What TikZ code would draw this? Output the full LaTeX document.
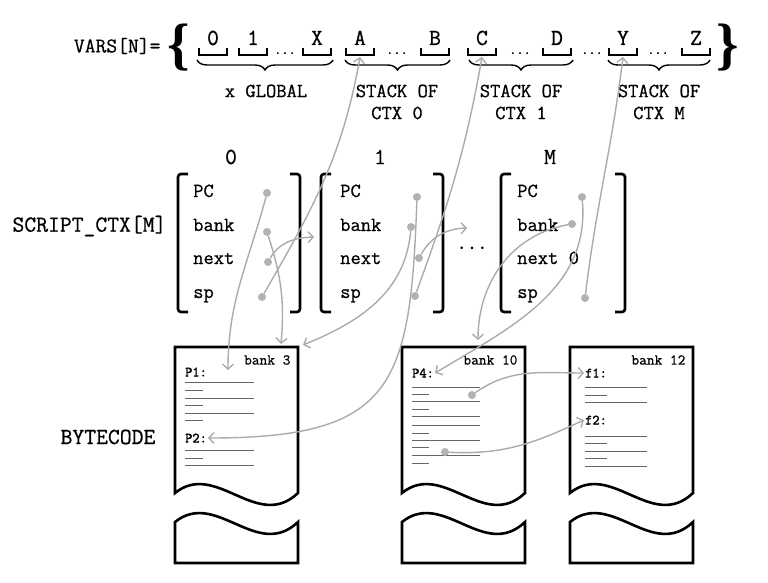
\documentclass[tikz,border=0pt]{standalone}
\usepackage{fontspec}
\setmonofont[FakeBold=0.7]{Latin Modern Mono}
\newfontfamily\boldmono[FakeBold=2]{Latin Modern Mono}
\renewcommand{\familydefault}{\ttdefault}
\newfontfamily\bracefont{Liberation Serif}
\usetikzlibrary{arrows.meta,decorations.pathreplacing}

\begin{document}
\begin{tikzpicture}[x=1pt,y=1pt]
  \useasboundingbox (0,0) rectangle (768,-583);

  \tikzstyle{every edge}=[draw,->,>={Straight Barb[length=5pt,width=11pt]},draw=black!33,line width=1.4pt]
  \tikzstyle{every node}=[font=\fontsize{20}{22}\selectfont]
  \tikzstyle{var}=[anchor=base,font=\fontsize{23}{25}\selectfont]
  \tikzstyle{etc}=[anchor=base,inner sep=0pt,font=\boldmono\fontsize{14}{15}\selectfont]
  \tikzstyle{slot}=[line width=2pt]
  \tikzstyle{ubrace}=[decorate,decoration={brace,mirror,amplitude=10pt},line width=1.4pt]
  \tikzstyle{big}=[font=\bracefont\bfseries\fontsize{57}{57}\selectfont]
  \tikzstyle{head}=[font=\fontsize{23}{25}\selectfont]
  \tikzstyle{brk}=[line width=2.6pt,rounded corners=3pt]
  \tikzstyle{row}=[anchor=base west,inner sep=0pt]
  \tikzstyle{dot}=[circle,fill=black!30,inner sep=0pt,minimum size=8pt]
  \tikzstyle{page}=[line width=2.6pt]
  \tikzstyle{ln}=[draw=black!60,line width=0.9pt]
  \tikzstyle{bk}=[anchor=east,font=\fontsize{15}{17}\selectfont]
  \tikzstyle{lbl}=[anchor=west,inner sep=1pt,font=\boldmono\fontsize{14}{16}\selectfont]

  % VARS
  \node[anchor=east,font=\fontsize{21}{23}\selectfont] (vars) at (164,-46) {VARS[N]=};
  \node[big] (lbr) at (179,-48) {\{};
  \node[big] (rbr) at (728,-48) {\}};
  \foreach \x/\nm in {213/0,253/1,317/X,360/A,435/B,482/C,557/D,623/Y,696/Z}{
    \node[var] (v\nm) at (\x,-45) {\nm};
    \draw[slot] (\x-14,-48) -- (\x-14,-55) -- (\x+14,-55) -- (\x+14,-48);
    \coordinate (s\nm) at (\x,-57);
  }
  \foreach \x in {285,397,520,592,658}
    \node[etc] at (\x,-54) {...};

  \draw[ubrace] (197,-60) -- (333,-60);
  \draw[ubrace] (345,-60) -- (450,-60);
  \draw[ubrace] (469,-60) -- (573,-60);
  \draw[ubrace] (608,-60) -- (710,-60);
  \node (glob) at (266,-91) {x GLOBAL};
  \node[align=center] (stk0) at (397,-102) {STACK OF\\CTX 0};
  \node[align=center] (stk1) at (521,-102) {STACK OF\\CTX 1};
  \node[align=center] (stkM) at (659,-102) {STACK OF\\CTX M};

  % SCRIPT_CTX
  \node[head,anchor=east] (sctx) at (170,-226) {SCRIPT\_CTX[M]};
  \foreach \n/\xa/\xb in {0/178/300,1/321/443,M/501/625}{
    \draw[brk] (\xa+10,-174) -- (\xa,-174) -- (\xa,-312) -- (\xa+10,-312);
    \draw[brk] (\xb-10,-174) -- (\xb,-174) -- (\xb,-312) -- (\xb-10,-312);
  }
  \node[head] (h0) at (231,-157) {0};
  \node[head] (h1) at (380,-157) {1};
  \node[head] (hM) at (550,-157) {M};
  \foreach \n/\x in {0/193,1/340}{
    \node[row] (pc\n) at (\x,-197) {PC};
    \node[row] (bank\n) at (\x,-231) {bank};
    \node[row] (next\n) at (\x,-264) {next};
    \node[row] (sp\n) at (\x,-298) {sp};
  }
  \node[row] (pcM) at (517,-197) {PC};
  \node[row] (bankM) at (517,-231) {bank};
  \node[row] (nextM) at (517,-264) {next 0};
  \node[row] (spM) at (517,-298) {sp};
  \node[etc,font=\boldmono\fontsize{20}{22}\selectfont] (dots) at (472,-249) {...};

  \node[dot] (dpc0) at (267,-193) {};
  \node[dot] (dbank0) at (267,-232) {};
  \node[dot] (dnext0) at (268,-262) {};
  \node[dot] (dsp0) at (262,-297) {};
  \node[dot] (dpc1) at (417,-197) {};
  \node[dot] (dbank1) at (411,-227) {};
  \node[dot] (dnext1) at (419,-258) {};
  \node[dot] (dsp1) at (415,-296) {};
  \node[dot] (dpcM) at (582,-197) {};
  \node[dot] (dbankM) at (572,-224) {};
  \node[dot] (dspM) at (585,-298) {};

  % BYTECODE
  \node[head] (bc) at (108,-437) {BYTECODE};
  \foreach \n/\x in {3/175,10/402,12/570}{
    \draw[page] (\x,-493) -- (\x,-347) -- (\x+123,-347) -- (\x+123,-493)
      .. controls (\x+82,-532) and (\x+41,-460) .. (\x,-493) -- cycle;
    \draw[page] (\x,-522) .. controls (\x+41,-489) and (\x+82,-561) .. (\x+123,-522)
      -- (\x+123,-563) -- (\x,-563) -- cycle;
    \node[bk] (bk\n) at (\x+119,-360) {bank \n};
  }
  % bank 3
  \foreach \y in {382,398,413,450,465} \draw[ln] (185,-\y) -- (254,-\y);
  \foreach \y in {390,405,420,458} \draw[ln] (185,-\y) -- (203,-\y);
  \node[lbl] (P1) at (184,-372) {P1:};
  \node[lbl] (P2) at (184,-438) {P2:};
  % bank 10
  \foreach \y in {387,401,416,425,440,455} \draw[ln] (412,-\y) -- (480,-\y);
  \foreach \y in {394,409,433,447,463} \draw[ln] (412,-\y) -- (429,-\y);
  \node[lbl] (P4) at (411,-373) {P4:};
  % bank 12
  \foreach \y in {387,402,436,451,466} \draw[ln] (585,-\y) -- (647,-\y);
  \foreach \y in {395,443,458} \draw[ln] (585,-\y) -- (607,-\y);
  \node[lbl] (f1) at (584,-373) {f1:};
  \node[lbl] (f2) at (584,-420) {f2:};
  \node[dot] (c1) at (472,-395) {};
  \node[dot] (c2) at (445,-452) {};

  \coordinate (p1in) at (228,-370);
  \coordinate (t3a) at (281,-344);
  \coordinate (t3b) at (303,-345);
  \coordinate (t10) at (478,-340);
  \coordinate (ctx1in) at (314,-237);
  \coordinate (etcin) at (467,-228);

  % liens
  \path (dpc0) edge[out=-105,in=90] (p1in)
        (dbank0) edge[out=-72,in=85] (t3a)
        (dnext0) edge[out=60,in=182] (ctx1in)
        (dsp0) edge[out=60,in=-100] (sA);
  \path (dpc1) edge[out=-92,in=0,looseness=1.5] (P2.east)
        (dbank1) edge[out=-95,in=22] (t3b)
        (dnext1) edge[out=60,in=182] (etcin)
        (dsp1) edge[out=70,in=-100] (sC);
  \path (dpcM) edge[out=-85,in=31] (P4.east)
        (dbankM) edge[out=190,in=90] (t10)
        (dspM) edge[out=83,in=-97] (sY);
  \path (c1) edge[out=35,in=180] (f1.west)
        (c2) edge[out=-3,in=205] (f2.west);
\end{tikzpicture}
\end{document}
